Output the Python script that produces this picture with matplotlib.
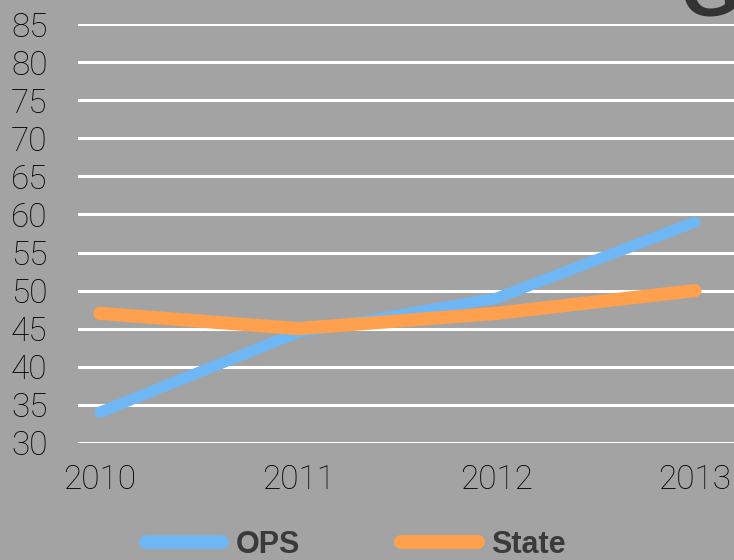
import matplotlib.pyplot as plt

years = ['2010', '2011', '2012', '2013']
ops = [34, 44.5, 49, 59]
state = [47, 45, 47, 50]
yticks = list(range(30, 90, 5))

bg = '#a3a3a3'
blue = '#6fb6f4'
orange = '#ffa04f'

fig = plt.figure(figsize=(7.34, 5.60), dpi=100)
fig.patch.set_facecolor(bg)
ax = fig.add_axes([78 / 734, 1 - 442.7 / 560, 1 - 78 / 734, (442.7 - 24.3) / 560])
ax.set_facecolor(bg)

x = range(len(years))
ax.plot(x, ops, color=blue, lw=8, solid_capstyle='round', label='OPS', zorder=3)
ax.plot(x, state, color=orange, lw=9.5, solid_capstyle='round', label='State', zorder=3)

ax.set_xlim(-0.11, 3.197)
ax.set_ylim(30, 85)
ax.set_yticks(yticks)
ax.set_xticks(list(x))
ax.set_xticklabels(years)
ax.grid(axis='y', color='white', lw=2.2)
ax.set_axisbelow(True)
for s in ax.spines.values():
    s.set_visible(False)
ax.tick_params(length=0, labelsize=24, colors='black')
ax.tick_params(axis='y', pad=22)
ax.tick_params(axis='x', pad=15)
for lab in ax.get_xticklabels() + ax.get_yticklabels():
    lab.set_family('Roboto')
    lab.set_fontweight('light')

leg = fig.legend(loc='center', bbox_to_anchor=(0.485, 0.027), ncol=2, frameon=False,
                 handlelength=2.5, handletextpad=0.45, columnspacing=3.3,
                 borderpad=0, borderaxespad=0,
                 prop={'family': 'Liberation Sans', 'weight': 'bold', 'size': 22})
for line in leg.get_lines():
    line.set_linewidth(10)
    line.set_solid_capstyle('round')
for t in leg.get_texts():
    t.set_color('#3a3a3a')

# cut-off letter at the top right corner
fig.text(710 / 734, 1 - 15 / 560, 'G', ha='center', va='baseline', fontsize=54,
         fontweight='bold', color='#333333', family='Liberation Sans')

fig.savefig('out.png', dpi=100, facecolor=bg)
